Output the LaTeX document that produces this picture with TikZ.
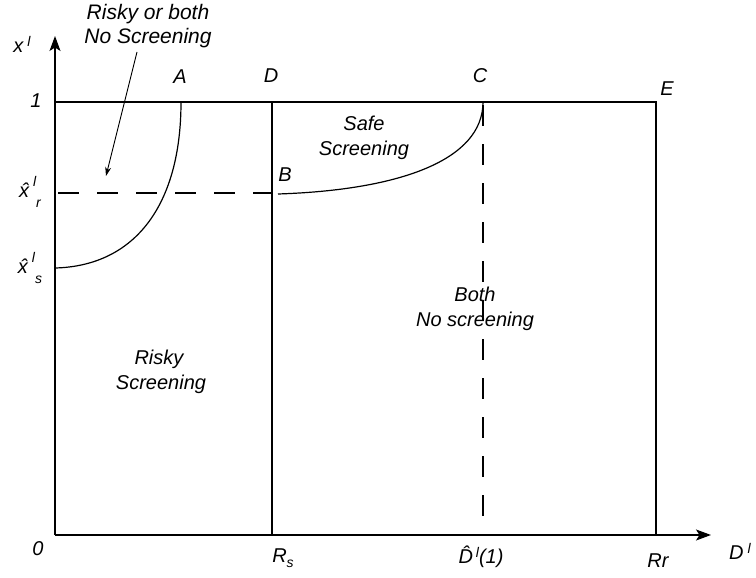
\documentclass[tikz,border=0pt]{standalone}
\usepackage{fontspec}
\setmainfont{Liberation Sans}
\usetikzlibrary{arrows.meta, positioning}
\newcommand{\smallidx}[1]{{\fontsize{14}{14}\selectfont\itshape #1}}

\begin{document}
\begin{tikzpicture}[
    x=1pt, y=-1pt,
    lbl/.style={font=\fontsize{20}{25.5}\selectfont\itshape, inner sep=1pt, align=center},
    axis/.style={-{Stealth[length=15pt, width=11pt, inset=3.5pt]}, line width=1.3pt},
    edge/.style={line width=1.2pt},
    curve/.style={line width=1.2pt},
    guide/.style={line width=1.1pt, dash pattern=on 21pt off 18pt},
    pointer/.style={-{Stealth[length=9pt, width=6pt]}, line width=0.9pt},
]
    \useasboundingbox (0,0) rectangle (756,578);

    % corner points of the region
    \coordinate (O) at (55,535);
    \coordinate (ytip) at (55,36);
    \coordinate (xtip) at (711,535);
    \coordinate (one) at (55,102);
    \coordinate (Etop) at (656,102);
    \coordinate (Ebot) at (656,535);
    \coordinate (Atop) at (181,102);
    \coordinate (Dtop) at (272,102);
    \coordinate (Dbot) at (272,535);
    \coordinate (Ctop) at (483,102);
    \coordinate (Cbot) at (483,535);
    \coordinate (xr) at (58,193);
    \coordinate (Bpt) at (278,194);
    \coordinate (xs) at (55,268);

    \draw[axis] (O) -- (ytip);
    \draw[axis] (O) -- (xtip);
    \draw[edge] (one) -- (Etop) -- (Ebot);
    \draw[edge] (Dtop) -- (Dbot);
    \draw[guide] (xr) -- (Dbot |- xr);
    \draw[guide, dash phase=-3pt] (Ctop) -- (Cbot);

    % boundary curves
    \draw[curve] (xs) .. controls (135,266) and (181,205) .. (Atop);
    \draw[curve] (Bpt) .. controls (400,190) and (483,160) .. (Ctop);

    % axis labels
    \node[lbl] (ylab) at (22,44) {x\hspace{4pt}\raisebox{6pt}{\smallidx{l}}};
    \node[lbl] (xlab) at (740,551) {D\hspace{4pt}\raisebox{6pt}{\smallidx{l}}};
    \node[lbl] (lone) at (36,101) {1};
    \node[lbl] (lzero) at (38,549) {0};
    \node[lbl] (lxr) at (30,192) {\^{x}\hspace{4pt}\raisebox{11pt}{\smallidx{l}}\raisebox{-10pt}{\smallidx{r}}};
    \node[lbl] (lxs) at (30,268) {\^{x}\hspace{4pt}\raisebox{11pt}{\smallidx{l}}\raisebox{-10pt}{\smallidx{s}}};
    \node[lbl] (lRs) at (283,558) {R\raisebox{-5pt}{\smallidx{s}}};
    \node[lbl] (lDhat) at (481,557) {\^{D}\hspace{3pt}\raisebox{6pt}{\smallidx{l}}(1)};
    \node[lbl] (lRr) at (658,561) {Rr};

    % point labels
    \node[lbl] (lA) at (180,77) {A};
    \node[lbl] (lD) at (271,76) {D};
    \node[lbl] (lC) at (480,76) {C};
    \node[lbl] (lE) at (667,89) {E};
    \node[lbl] (lB) at (285,175) {B};

    % region labels
    \node[lbl] (safe) at (364,138) {Safe\\Screening};
    \node[lbl] (both) at (475,309) {Both\\No screening};
    \node[lbl] (risky) at (159,372) {Risky\\\hspace*{4pt}Screening};
    \node[lbl, font=\fontsize{21}{24}\selectfont\itshape] (nosc) at (148,26) {Risky or both\\No Screening};
    \coordinate (ptail) at (137,52);
    \coordinate (phead) at (106,176);
    \draw[pointer] (ptail) -- (phead);
\end{tikzpicture}
\end{document}
